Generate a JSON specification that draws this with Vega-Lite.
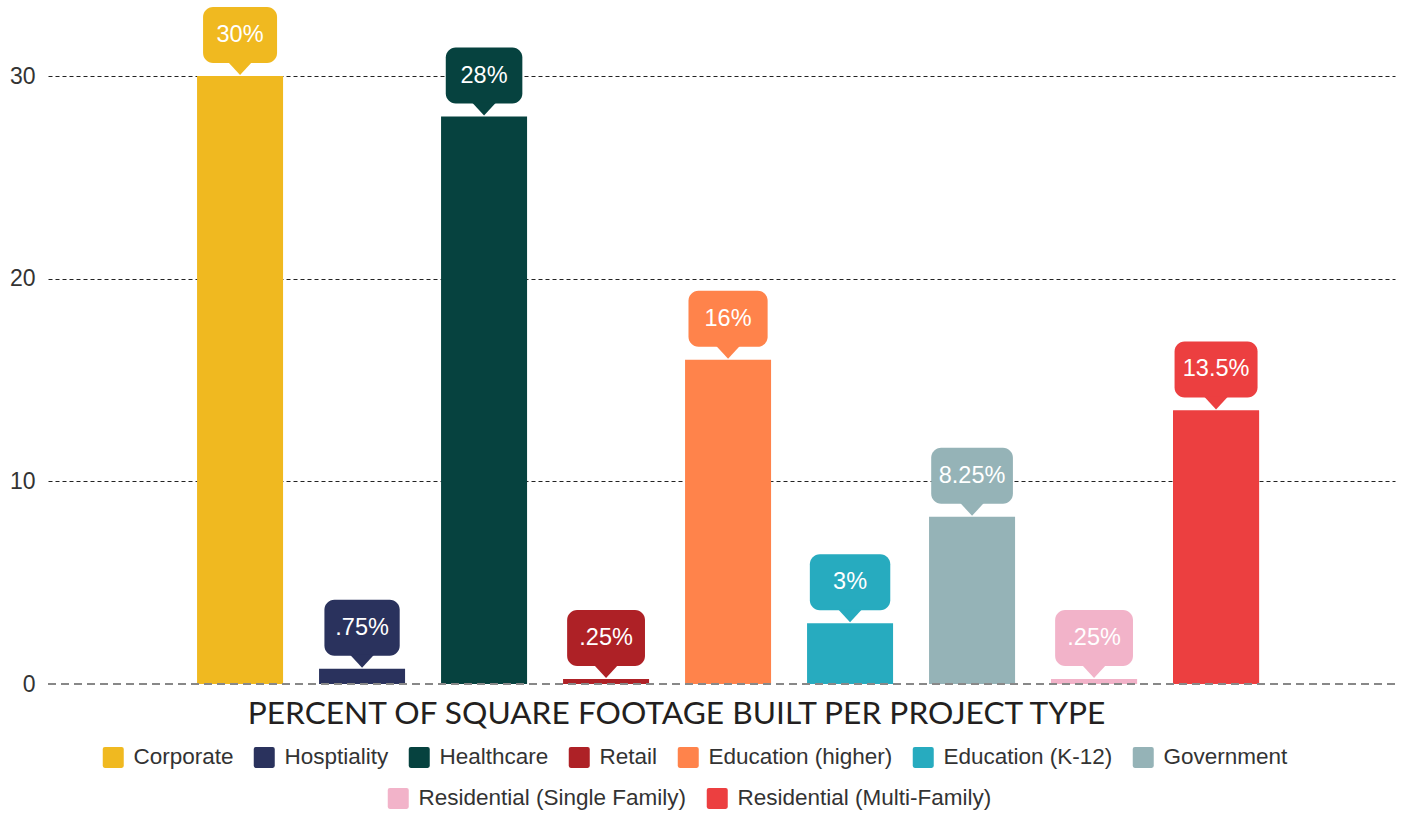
{
  "$schema": "https://vega.github.io/schema/vega-lite/v6.json",
  "width": 1347,
  "height": 608,
  "autosize": "none",
  "padding": {"left": 48, "top": 76, "right": 8, "bottom": 130},
  "background": "white",
  "data": {
    "values": [
      {"type": "Corporate", "value": 30, "label": "30%"},
      {"type": "Hosptiality", "value": 0.75, "label": ".75%"},
      {"type": "Healthcare", "value": 28, "label": "28%"},
      {"type": "Retail", "value": 0.25, "label": ".25%"},
      {"type": "Education (higher)", "value": 16, "label": "16%"},
      {"type": "Education (K-12)", "value": 3, "label": "3%"},
      {"type": "Government", "value": 8.25, "label": "8.25%"},
      {"type": "Residential (Single Family)", "value": 0.25, "label": ".25%"},
      {"type": "Residential (Multi-Family)", "value": 13.5, "label": "13.5%"}
    ]
  },
  "encoding": {
    "x": {
      "field": "type",
      "type": "nominal",
      "scale": {
        "domain": ["_left", "Corporate", "Hosptiality", "Healthcare", "Retail", "Education (higher)", "Education (K-12)", "Government", "Residential (Single Family)", "Residential (Multi-Family)", "_right"],
        "paddingInner": 0.295,
        "paddingOuter": 0.168,
        "align": 0.66
      },
      "axis": {
        "labels": false,
        "ticks": false,
        "domain": false,
        "title": "PERCENT OF SQUARE FOOTAGE BUILT PER PROJECT TYPE",
        "titleFont": "Lato",
        "titleFontSize": 31.7,
        "titleFontWeight": "normal",
        "titleColor": "#231f20",
        "titlePadding": 14,
        "titleX": 628,
        "titleAlign": "center"
      }
    }
  },
  "layer": [
    {
      "mark": {"type": "bar"},
      "encoding": {
        "y": {
          "field": "value",
          "type": "quantitative",
          "scale": {"domain": [0, 30], "nice": false},
          "axis": {
            "values": [0, 10, 20, 30],
            "title": null,
            "domain": false,
            "ticks": false,
            "labelPadding": 13,
            "labelFont": "Liberation Sans",
            "labelFontSize": 23,
            "labelColor": "#333333",
            "grid": true,
            "gridColor": "#222222",
            "gridDash": [4, 3],
            "gridWidth": 1,
            "gridOpacity": {"condition": {"test": "datum.value === 0", "value": 0}, "value": 1}
          }
        },
        "color": {
          "field": "type",
          "type": "nominal",
          "scale": {
            "domain": ["Corporate", "Hosptiality", "Healthcare", "Retail", "Education (higher)", "Education (K-12)", "Government", "Residential (Single Family)", "Residential (Multi-Family)"],
            "range": ["#F0B920", "#2A325D", "#06423F", "#AE2126", "#FF834B", "#27ABBF", "#95B3B7", "#F2B3C9", "#EC3F40"]
          },
          "legend": {
            "values": ["Corporate", "Hosptiality", "Healthcare", "Retail", "Education (higher)", "Education (K-12)", "Government"],
            "orient": "none",
            "legendX": 54,
            "legendY": 670,
            "direction": "horizontal",
            "title": null
          }
        }
      }
    },
    {
      "transform": [{"filter": "datum.type === 'Residential (Single Family)' || datum.type === 'Residential (Multi-Family)'"}],
      "mark": {"type": "bar"},
      "encoding": {
        "y": {"field": "value", "type": "quantitative"},
        "fill": {
          "field": "type",
          "type": "nominal",
          "scale": {
            "domain": ["Residential (Single Family)", "Residential (Multi-Family)"],
            "range": ["#F2B3C9", "#EC3F40"]
          },
          "legend": {
            "orient": "none",
            "legendX": 339,
            "legendY": 711,
            "direction": "horizontal",
            "title": null
          }
        }
      }
    },
    {
      "mark": {"type": "bar", "cornerRadius": 10, "yOffset": -69, "y2Offset": -13},
      "encoding": {
        "y": {"field": "value", "type": "quantitative"},
        "y2": {"field": "value"},
        "color": {"field": "type", "type": "nominal"},
        "size": {
          "field": "label",
          "type": "nominal",
          "scale": {
            "domain": ["30%", ".75%", "28%", ".25%", "16%", "3%", "8.25%", "13.5%"],
            "range": [74, 83, 76, 83, 77, 62, 96, 95]
          },
          "legend": null
        }
      }
    },
    {
      "mark": {"type": "point", "filled": true, "opacity": 1, "shape": "M-1,-1.08L1,-1.08L0,0Z", "size": 576, "yOffset": -1, "strokeWidth": 0},
      "encoding": {
        "y": {"field": "value", "type": "quantitative"},
        "color": {"field": "type", "type": "nominal"}
      }
    },
    {
      "mark": {"type": "text", "yOffset": -41, "baseline": "middle", "align": "center", "font": "Liberation Sans", "fontSize": 23.5, "color": "white"},
      "encoding": {
        "y": {"field": "value", "type": "quantitative"},
        "text": {"field": "label"}
      }
    },
    {
      "mark": {"type": "rule", "color": "#888888", "strokeWidth": 2, "strokeDash": [8, 5]},
      "encoding": {"y": {"datum": 0}, "x": null}
    }
  ],
  "config": {
    "view": {"stroke": null},
    "legend": {
      "symbolType": "M-1,-0.8Q-1,-1 -0.8,-1L0.8,-1Q1,-1 1,-0.8L1,0.8Q1,1 0.8,1L-0.8,1Q-1,1 -1,0.8Z",
      "symbolSize": 441,
      "symbolStrokeWidth": 0,
      "symbolOpacity": 1,
      "labelFont": "Liberation Sans",
      "labelFontSize": 22.5,
      "labelColor": "#333333",
      "labelOffset": 9,
      "columnPadding": 19,
      "padding": 0,
      "labelLimit": 400
    }
  }
}
